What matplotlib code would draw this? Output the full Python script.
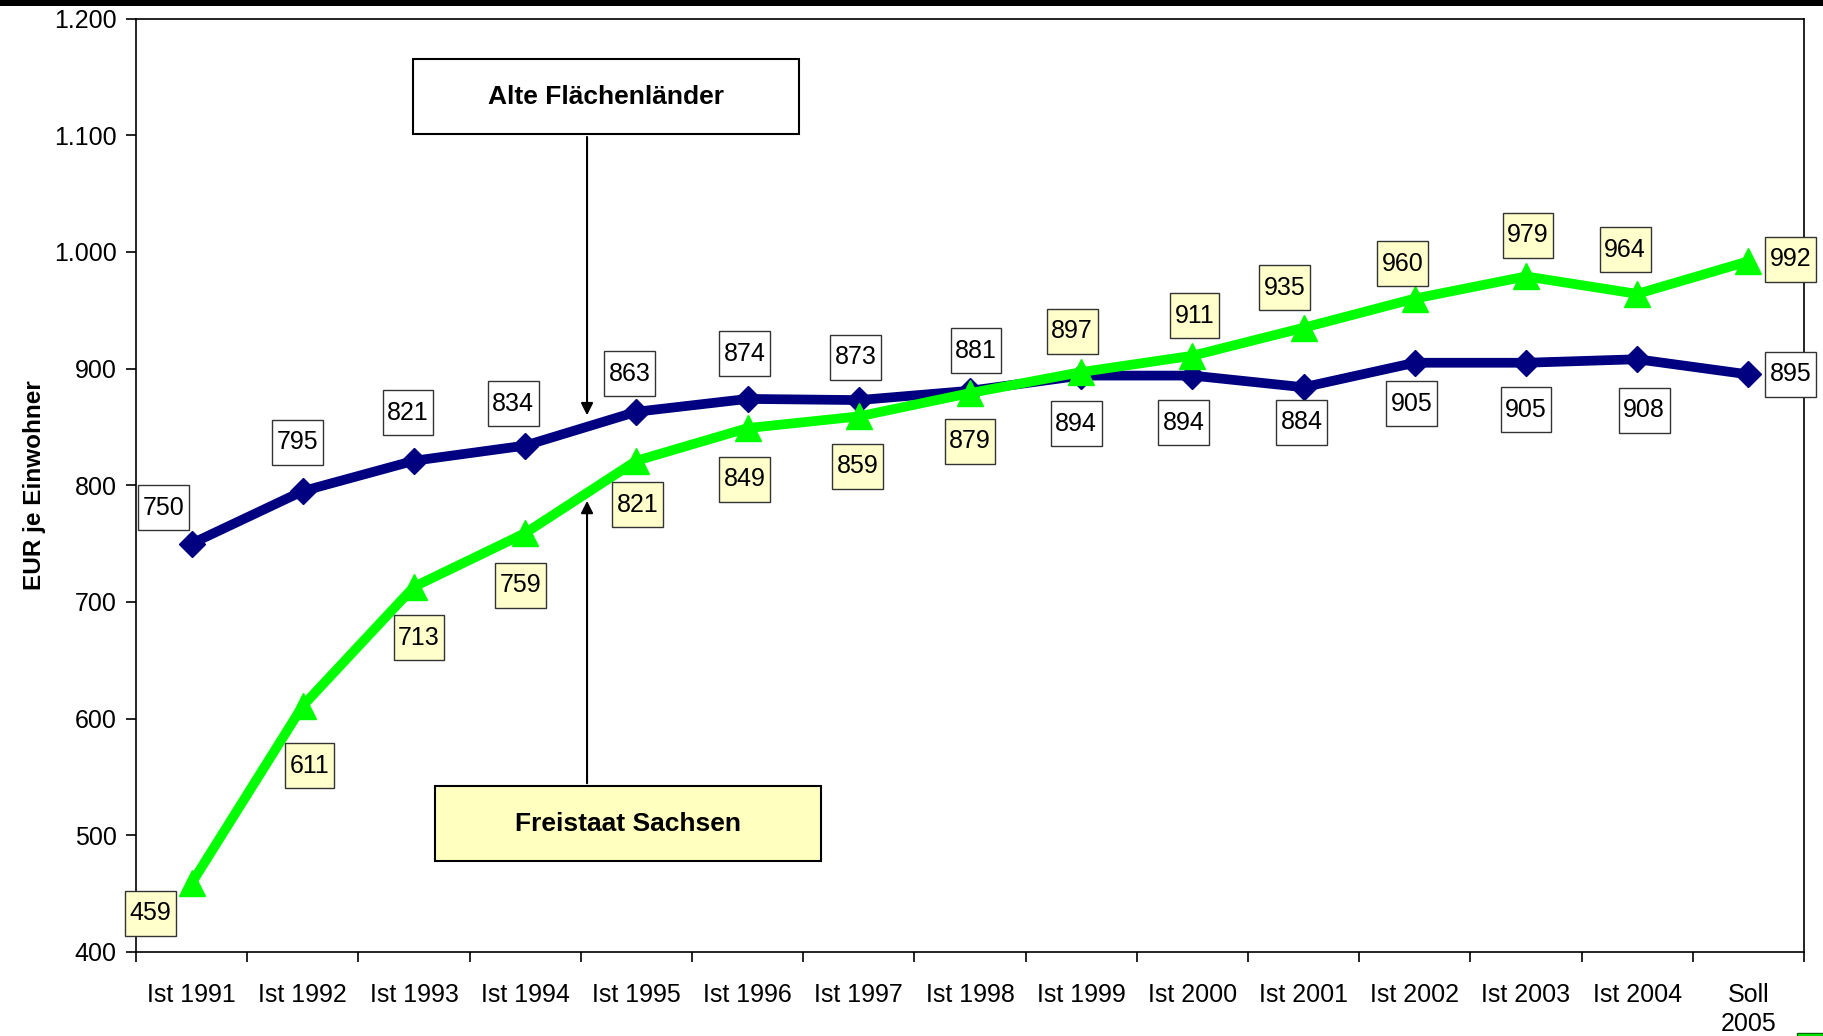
import matplotlib.pyplot as plt
from matplotlib.patches import Rectangle
from matplotlib.path import Path
from matplotlib.ticker import FuncFormatter

plt.rcParams['font.family'] = ['Liberation Sans', 'DejaVu Sans']

kategorien = ['Ist 1991', 'Ist 1992', 'Ist 1993', 'Ist 1994', 'Ist 1995', 'Ist 1996',
              'Ist 1997', 'Ist 1998', 'Ist 1999', 'Ist 2000', 'Ist 2001', 'Ist 2002',
              'Ist 2003', 'Ist 2004', 'Soll\n2005']
alte_laender = [750, 795, 821, 834, 863, 874, 873, 881, 894, 894, 884, 905, 905, 908, 895]
sachsen = [459, 611, 713, 759, 821, 849, 859, 879, 897, 911, 935, 960, 979, 964, 992]

# Versatz der Wertelabels in Pixeln (dx, dy)
off_alte = [(-28, 36), (-5, 49), (-6, 48), (-12, 42), (-7, 38), (-3, 45), (-3, 43), (6, 40),
            (-5, -48), (-9, -47), (-2, -35), (-3, -41), (0, -47), (7, -51), (42, 0)]
off_sachsen = [(-41, -30), (7, -60), (5, -51), (-5, -52), (1, -44), (-3, -51), (-1, -50), (0, -48),
               (-9, 41), (2, 40), (-19, 40), (-12, 35), (2, 41), (-12, 44), (42, 2)]

blau = '#000080'
gruen = '#00FF00'


def label_box(x0, y0, width, height, mutation_size):
    # Rechteck mit wenig Rand seitlich und mehr Rand oben/unten
    px = 0.18 * mutation_size
    py = 0.42 * mutation_size
    verts = [(x0 - px, y0 - py), (x0 + width + px, y0 - py),
             (x0 + width + px, y0 + height + py), (x0 - px, y0 + height + py),
             (x0 - px, y0 - py)]
    return Path(verts, closed=True)


fig = plt.figure(figsize=(18.23, 10.36), dpi=100)
ax = fig.add_axes([0.0746, 0.0811, 0.915, 0.901])

x = list(range(len(kategorien)))
ax.plot(x, alte_laender, color=blau, lw=7, marker='D', ms=13, zorder=3)
ax.plot(x, sachsen, color=gruen, lw=7, marker='^', ms=19, zorder=4)

for xi, v, (dx, dy) in zip(x, alte_laender, off_alte):
    ax.annotate(str(v), (xi, v), xytext=(dx, dy), textcoords='offset pixels',
                ha='center', va='center', fontsize=18, zorder=5,
                bbox=dict(boxstyle=label_box, fc='white', ec='#333333', lw=1))
for xi, v, (dx, dy) in zip(x, sachsen, off_sachsen):
    ax.annotate(str(v), (xi, v), xytext=(dx, dy), textcoords='offset pixels',
                ha='center', va='center', fontsize=18, zorder=5,
                bbox=dict(boxstyle=label_box, fc='#FFFFCC', ec='#333333', lw=1))

# Legendenkästen mit Pfeilen
ax.add_patch(Rectangle((1.991, 1100.9), 3.471, 64.3, fc='white', ec='black', lw=1.5, zorder=6))
ax.text(3.727, 1133, 'Alte Flächenländer', ha='center', va='center',
        fontsize=19, fontweight='bold', zorder=7)
ax.annotate('', xy=(3.556, 857.6), xytext=(3.556, 1100.9),
            arrowprops=dict(arrowstyle='-|>', color='black', lw=1.5, mutation_scale=18), zorder=6)

ax.add_patch(Rectangle((2.189, 478.0), 3.471, 64.2, fc='#FFFFC0', ec='black', lw=1.5, zorder=6))
ax.text(3.925, 510, 'Freistaat Sachsen', ha='center', va='center',
        fontsize=19, fontweight='bold', zorder=7)
ax.annotate('', xy=(3.556, 789), xytext=(3.556, 542.2),
            arrowprops=dict(arrowstyle='-|>', color='black', lw=1.5, mutation_scale=18), zorder=6)

ax.set_xlim(-0.5, len(kategorien) - 0.5)
ax.set_ylim(400, 1200)
ax.set_yticks(range(400, 1201, 100))
ax.yaxis.set_major_formatter(FuncFormatter(lambda v, p: f'{int(v):,}'.replace(',', '.')))

ax.set_xticks([i + 0.5 for i in range(-1, len(kategorien))])
ax.set_xticklabels([])
ax.set_xticks(x, minor=True)
ax.set_xticklabels(kategorien, minor=True, fontsize=18, linespacing=1.3)
ax.tick_params(axis='x', which='minor', length=0, pad=22)
ax.tick_params(axis='x', which='major', length=7, width=1.2)
ax.tick_params(axis='y', length=7, width=1.2, pad=7, labelsize=18)

for s in ax.spines.values():
    s.set_linewidth(1.2)
    s.set_color('black')

ax.set_ylabel('EUR je Einwohner', fontsize=17.5, fontweight='bold')
ax.yaxis.set_label_coords(-0.054, 0.5)

# schwarzer Balken oben und kleines Logo unten rechts
fig.patches.append(Rectangle((0, 0.9942), 1, 0.006, transform=fig.transFigure,
                             fc='black', ec='none', figure=fig))
fig.patches.append(Rectangle((0.986, 0), 0.014, 0.003, transform=fig.transFigure,
                             fc=gruen, ec='#006600', lw=1, figure=fig))

fig.savefig('out.png', dpi=100)
